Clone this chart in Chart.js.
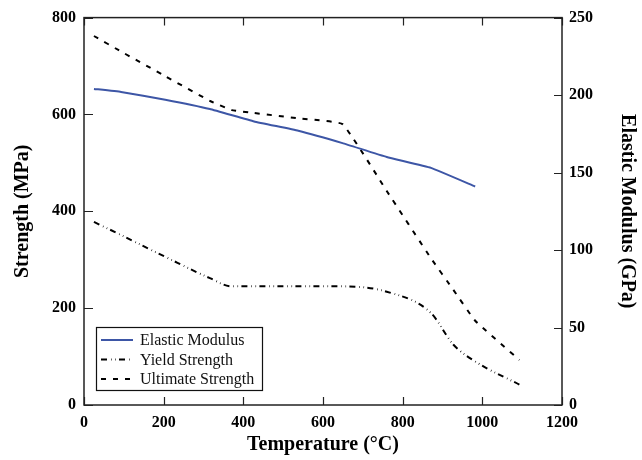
<!DOCTYPE html>
<html>
<head>
<meta charset="utf-8">
<script src="https://cdn.jsdelivr.net/npm/chart.js@4"></script>
<style>
  body { margin: 0; background: #fff; }
</style>
</head>
<body>
<canvas id="chart" width="642" height="460"></canvas>
<script>
// temperatures in °C
const modulusTemps = [25, 93, 204, 316, 427, 538, 649, 760, 871, 982];
const elasticModulus = [204, 202, 197, 191, 183, 177, 169, 160, 153, 141]; // GPa

const strengthTemps = [25, 93, 204, 316, 371, 427, 538, 649, 760, 871, 927, 982, 1093];
const yieldStrength = [378, 351, 306, 262, 245, 245, 245, 245, 234, 190, 125, 90, 42]; // MPa
const ultimateStrength = [762, 730, 679, 628, 609, 603, 592, 580, 442, 303, 238, 174, 93]; // MPa

const xTicks = [0, 200, 400, 600, 800, 1000, 1200];
const strengthTicks = [0, 200, 400, 600, 800];
const modulusTicks = [0, 50, 100, 150, 200, 250];

const serif = "'Liberation Serif', 'Times New Roman', serif";
const tickFont = { family: serif, size: 16, weight: 'bold' };
const titleFont = { family: serif, size: 20, weight: 'bold' };

const toPoints = (xs, ys) => xs.map((x, i) => ({ x, y: ys[i] }));
const plain = v => String(v);

// frame with inward ticks on all four sides
const framePlugin = {
  id: 'frame',
  afterDatasetsDraw(chart) {
    const { ctx, chartArea: a, scales } = chart;
    ctx.save();
    ctx.strokeStyle = '#222';
    ctx.lineWidth = 1.2;
    ctx.beginPath();
    scales.x.ticks.forEach(t => {
      const px = Math.round(scales.x.getPixelForValue(t.value)) + 0.5;
      ctx.moveTo(px, a.bottom); ctx.lineTo(px, a.bottom - 8);
      ctx.moveTo(px, a.top); ctx.lineTo(px, a.top + 8);
    });
    scales.y.ticks.forEach(t => {
      const py = Math.round(scales.y.getPixelForValue(t.value)) + 0.5;
      ctx.moveTo(a.left, py); ctx.lineTo(a.left + 9, py);
    });
    scales.y2.ticks.forEach(t => {
      const py = Math.round(scales.y2.getPixelForValue(t.value)) + 0.5;
      ctx.moveTo(a.right, py); ctx.lineTo(a.right - 8, py);
    });
    ctx.stroke();
    ctx.lineWidth = 1.5;
    ctx.strokeRect(a.left, a.top, a.right - a.left, a.bottom - a.top);

    // legend box in the lower left of the plot
    const bx = a.left + 12, by = a.bottom - 78, bw = 166, bh = 63;
    ctx.fillStyle = '#fff';
    ctx.fillRect(bx, by, bw, bh);
    ctx.lineWidth = 1.2;
    ctx.strokeStyle = '#111';
    ctx.strokeRect(bx + 0.5, by + 0.5, bw, bh);
    ctx.font = '16px ' + serif;
    ctx.textBaseline = 'middle';
    chart.data.datasets.forEach((ds, i) => {
      const y = by + 13 + i * 19.5;
      ctx.save();
      ctx.strokeStyle = ds.borderColor;
      ctx.lineWidth = ds.borderWidth;
      ctx.setLineDash(ds.borderDash || []);
      ctx.beginPath();
      ctx.moveTo(bx + 5, y); ctx.lineTo(bx + 37, y);
      ctx.stroke();
      ctx.restore();
      ctx.fillStyle = '#111';
      ctx.fillText(ds.label, bx + 44, y + 1);
    });
    ctx.restore();
  }
};

new Chart(document.getElementById('chart').getContext('2d'), {
  type: 'line',
  data: {
    datasets: [
      {
        label: 'Elastic Modulus',
        data: toPoints(modulusTemps, elasticModulus),
        yAxisID: 'y2',
        borderColor: '#3d56a6',
        borderWidth: 2,
        tension: 0.1
      },
      {
        label: 'Yield Strength',
        data: toPoints(strengthTemps, yieldStrength),
        yAxisID: 'y',
        borderColor: '#000',
        borderWidth: 2,
        borderDash: [6, 4, 0.6, 3.5, 0.6, 3.3],
        cubicInterpolationMode: 'monotone'
      },
      {
        label: 'Ultimate Strength',
        data: toPoints(strengthTemps, ultimateStrength),
        yAxisID: 'y',
        borderColor: '#000',
        borderWidth: 2,
        borderDash: [5, 7],
        tension: 0.1
      }
    ]
  },
  options: {
    responsive: false,
    animation: false,
    layout: { padding: { top: 15 } },
    elements: { point: { radius: 0 } },
    plugins: { legend: { display: false }, tooltip: { enabled: false } },
    scales: {
      x: {
        type: 'linear',
        min: 0, max: 1200,
        afterBuildTicks: s => { s.ticks = xTicks.map(value => ({ value })); },
        ticks: { font: tickFont, color: '#000', padding: 8, maxRotation: 0, callback: plain },
        grid: { display: false, drawTicks: false },
        border: { display: false },
        title: { display: true, text: 'Temperature (°C)', font: titleFont, color: '#000', padding: { bottom: 3 } },
        afterFit: s => { s.height = 55; }
      },
      y: {
        position: 'left',
        min: 0, max: 800,
        afterBuildTicks: s => { s.ticks = strengthTicks.map(value => ({ value })); },
        ticks: { font: tickFont, color: '#000', padding: 8, callback: plain },
        grid: { display: false, drawTicks: false },
        border: { display: false },
        title: { display: true, text: 'Strength (MPa)', font: titleFont, color: '#000', padding: { top: 11 } },
        afterFit: s => { s.width = 84; }
      },
      y2: {
        position: 'right',
        min: 0, max: 250,
        afterBuildTicks: s => { s.ticks = modulusTicks.map(value => ({ value })); },
        ticks: { font: tickFont, color: '#000', padding: 7, callback: plain },
        grid: { display: false, drawTicks: false },
        border: { display: false },
        title: { display: true, text: 'Elastic Modulus (GPa)', font: titleFont, color: '#000', padding: { top: 3 } },
        afterFit: s => { s.width = 80; }
      }
    }
  },
  plugins: [framePlugin]
});
</script>
</body>
</html>
